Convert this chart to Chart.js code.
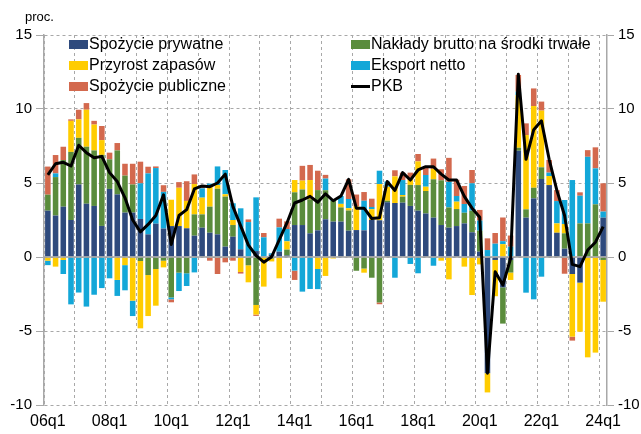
<!DOCTYPE html>
<html>
<head>
<meta charset="utf-8">
<script src="https://cdn.jsdelivr.net/npm/chart.js@4.4.1/dist/chart.umd.min.js"></script>
<style>
html,body{margin:0;padding:0;background:#fff;}
#wrap{position:relative;width:641px;height:434px;overflow:hidden;font-family:"Liberation Sans",Arial,sans-serif;color:#000;}
#c{position:absolute;left:0;top:0;}
.sw{position:absolute;width:19px;height:9px;}
.ln{position:absolute;width:19px;height:3px;background:#000;}
.tx{position:absolute;font-size:16px;line-height:18px;white-space:nowrap;}
#unit{position:absolute;left:25px;top:9px;font-size:13px;line-height:15px;}
</style>
</head>
<body>
<div id="wrap">
<canvas id="c" width="641" height="434"></canvas>
<div id="unit">proc.</div>
<div id="legend"></div>
</div>
<script>
const categories = ["06q1","06q2","06q3","06q4","07q1","07q2","07q3","07q4","08q1","08q2","08q3","08q4",
"09q1","09q2","09q3","09q4","10q1","10q2","10q3","10q4","11q1","11q2","11q3","11q4",
"12q1","12q2","12q3","12q4","13q1","13q2","13q3","13q4","14q1","14q2","14q3","14q4",
"15q1","15q2","15q3","15q4","16q1","16q2","16q3","16q4","17q1","17q2","17q3","17q4",
"18q1","18q2","18q3","18q4","19q1","19q2","19q3","19q4","20q1","20q2","20q3","20q4",
"21q1","21q2","21q3","21q4","22q1","22q2","22q3","22q4","23q1","23q2","23q3","23q4","24q1"];

const yTicks = [-10, -5, 0, 5, 10, 15];

const seriesNames = ["Spożycie prywatne","Nakłady brutto na środki trwałe","Przyrost zapasów","Eksport netto","Spożycie publiczne","PKB"];

const spozyciePrywatne = [3.13,2.8,3.4,2.5,4.9,3.6,3.45,2.1,4.6,4.23,3.0,3.0,
2.57,1.53,2.25,1.92,2.09,2.09,1.94,1.44,1.98,1.64,1.53,0.7,
1.37,0.52,0,0.4,0,0.15,0.36,0.1,2.16,2.16,1.6,1.8,
2.55,2.39,2.39,1.78,1.82,1.8,2.5,2.48,3.7,3.65,3.67,3.45,
3.13,2.94,2.66,2.16,1.98,2.09,2.27,1.67,0.36,-7.85,-0.2,-2.05,
-0.2,7.18,2.66,3.96,5.27,4.86,1.64,0.56,-1.15,-1.73,0,0,2.66];

const naklady = [1.08,2.6,3.15,4.6,3.15,3.85,3.75,4.8,2.0,2.97,2.5,1.9,
-0.27,-1.22,-0.81,-0.25,-2.73,-1.06,-1.1,1.44,0.9,1.76,3.08,3.38,
0.79,0,-0.56,-3.24,0,-0.1,0,0.4,2.21,2.4,2.3,2.72,
1.96,1.4,0.96,1.36,-0.93,-0.78,-1.4,-3.07,0.1,0,0.41,1.42,
1.73,1.52,2.59,3.02,1.37,1.15,0.72,1.46,1.42,0,0,-2.45,
-0.85,0.2,0.56,0.72,0.79,0,0,1.04,0,2.27,2.27,3.56,-0.2];

const zapasy = [-0.25,-0.65,-0.2,2.1,1.25,2.5,1.75,1.0,0,-1.55,-0.55,-2.95,
-4.55,-2.77,-2.48,-0.45,1.78,2.59,1.85,2.05,1.13,1.46,0.25,0.16,
0.34,-1.01,-1.15,-0.65,-2.0,-0.2,-1.44,0.56,0.83,0.6,1.3,-0.81,
-1.28,-0.1,0.24,0.16,1.6,-0.28,0.73,2.45,0.95,1.8,0.11,0.38,
1.6,0.29,0.7,-0.25,-1.51,0.5,-0.65,-2.57,-0.5,-1.3,-2.45,0.87,
-0.5,3.56,5.02,5.52,3.83,0.61,0.63,0.63,-4.23,-3.32,-6.78,-6.46,-2.82];

const eksportNetto = [-0.3,0.25,-0.95,-3.2,-2.4,-3.35,-2.55,-2.1,-1.44,-1.08,-1.7,-1.04,
2.41,4.12,3.76,2.48,-0.13,-1.24,-0.86,-1.04,0.63,0.1,1.26,1.64,
1.13,2.77,2.36,3.63,1.33,0.1,1.64,0.83,-0.92,-2.34,-2.16,-1.36,
0.79,0.1,0.53,0.62,0,2.0,0.15,0.9,0.35,-1.4,1.01,-0.47,
-1.1,0.79,-0.59,0,1.73,0.38,0.59,1.85,0.68,0.47,0.9,0.2,
0.7,0.23,-2.41,-2.86,-1.33,0.23,1.51,1.62,5.2,1.87,4.5,2.43,0.41];

const spozyciePubliczne = [1.9,1.24,0.9,0.1,0.65,0.45,0.25,0.95,0.45,0.5,0.8,1.4,
1.46,0.45,0.11,0.45,-0.2,0.38,1.33,0.65,0.2,-0.25,-1.15,-0.36,
-0.25,-0.11,0.18,-0.09,0.29,0,0.59,0.52,-0.63,1.0,1.02,1.31,
0.25,0,0,1.33,0.8,0.59,0.56,-0.12,0,0.41,0.5,0.45,
0.5,0.5,0.7,0.75,1.62,1.1,1.22,0.9,0.72,0.79,0.72,1.6,
0.75,1.13,0.79,1.19,0.61,0.86,0.74,-1.13,-0.27,0.23,0.45,1.42,1.91];

const pkb = [5.55,6.3,6.4,6.15,7.55,7.05,6.7,6.8,5.7,5.1,4.0,2.5,
1.7,2.2,2.8,4.2,0.85,2.8,3.2,4.6,4.8,4.75,5.0,5.6,
3.4,2.1,0.8,0.1,-0.35,0.0,1.15,2.3,3.65,3.85,4.1,3.7,
4.27,3.8,4.12,5.25,3.3,3.3,2.6,2.65,5.1,4.5,5.7,5.2,
5.88,6.1,6.1,5.6,5.2,5.2,4.1,3.3,2.68,-7.85,-1.0,-1.9,
-0.1,12.35,6.6,8.6,9.2,6.6,4.5,2.8,-0.5,-0.65,0.47,1.0,2.05];

const colors = ["#2E4A7D","#5A8C3C","#FFCC00","#13A7D8","#D3694E","#000000"];
const FONT = '"Liberation Sans", Arial, sans-serif';

const barSeries = [spozyciePrywatne, naklady, zapasy, eksportNetto, spozyciePubliczne];

const datasets = barSeries.map((d, k) => ({
  type: 'bar',
  label: seriesNames[k],
  data: d,
  backgroundColor: colors[k],
  borderWidth: 0,
  stack: 'comp',
  order: 1,
  barPercentage: 0.72,
  categoryPercentage: 1.0
}));
datasets.push({
  type: 'line',
  label: seriesNames[5],
  data: pkb,
  borderColor: colors[5],
  borderWidth: 3,
  pointRadius: 0,
  tension: 0,
  fill: false,
  stack: 'pkb',
  order: 0,
  borderJoinStyle: 'round'
});

const zeroLine = {
  id: 'zeroLine',
  beforeDatasetDraw(chart, args) {
    if (args.meta.type !== 'line') return;
    const {ctx, chartArea, scales} = chart;
    const py = scales.y.getPixelForValue(0);
    ctx.save();
    ctx.strokeStyle = '#A0A0A0';
    ctx.lineWidth = 1.5;
    ctx.beginPath();
    ctx.moveTo(chartArea.left, py);
    ctx.lineTo(chartArea.right, py);
    ctx.stroke();
    ctx.restore();
  }
};

const gridGray = '#A8A8A8';

new Chart(document.getElementById('c'), {
  data: { labels: categories, datasets: datasets },
  plugins: [zeroLine],
  options: {
    responsive: false,
    devicePixelRatio: 1,
    animation: false,
    layout: { padding: { top: 35, left: 0, right: 0, bottom: 0 } },
    plugins: { legend: { display: false }, tooltip: { enabled: false } },
    scales: {
      x: {
        stacked: true,
        grid: {
          offset: true,
          drawTicks: false,
          color: (c) => (c.index % 4 === 0 ? gridGray : 'rgba(0,0,0,0)'),
          lineWidth: 1
        },
        border: { display: false, dash: [3, 3] },
        ticks: {
          autoSkip: false, maxRotation: 0, minRotation: 0, padding: 7,
          color: '#000', font: { family: FONT, size: 16 },
          callback: function (v, i) { return i % 8 === 0 ? categories[i] : ''; }
        },
        afterFit(s) { s.height = 29; }
      },
      y: {
        stacked: true,
        position: 'left',
        min: yTicks[0], max: yTicks[yTicks.length - 1],
        afterBuildTicks(s) { s.ticks = yTicks.map(v => ({ value: v })); },
        grid: { color: gridGray, lineWidth: 1, tickLength: 8, tickColor: gridGray, tickBorderDash: [] },
        border: { display: true, color: gridGray, width: 1.5, dash: [3, 3] },
        ticks: { color: '#000', font: { family: FONT, size: 15 }, padding: 4 },
        afterFit(s) { s.width = 44; }
      },
      y2: {
        position: 'right',
        min: yTicks[0], max: yTicks[yTicks.length - 1],
        afterBuildTicks(s) { s.ticks = yTicks.map(v => ({ value: v })); },
        grid: { drawOnChartArea: false, tickLength: 7, color: gridGray, tickColor: gridGray },
        border: { display: true, color: gridGray, width: 1.5 },
        ticks: { color: '#000', font: { family: FONT, size: 15 }, padding: 4 },
        afterFit(s) { s.width = 34; }
      }
    }
  }
});

// legend (two columns, row-major like the original)
const lg = document.getElementById('legend');
const colX = [69, 351];
const rowY = [44, 65, 86];
seriesNames.forEach((name, k) => {
  const col = k % 2, row = Math.floor(k / 2);
  const x = colX[col], y = rowY[row];
  const m = document.createElement('div');
  if (k === 5) { m.className = 'ln'; m.style.left = x + 'px'; m.style.top = (y - 1.5) + 'px'; }
  else { m.className = 'sw'; m.style.left = x + 'px'; m.style.top = (y - 4.5) + 'px'; m.style.background = colors[k]; }
  lg.appendChild(m);
  const t = document.createElement('div');
  t.className = 'tx';
  t.style.left = (x + 20) + 'px';
  t.style.top = (y - 9) + 'px';
  t.textContent = name;
  lg.appendChild(t);
});
</script>
</body>
</html>
